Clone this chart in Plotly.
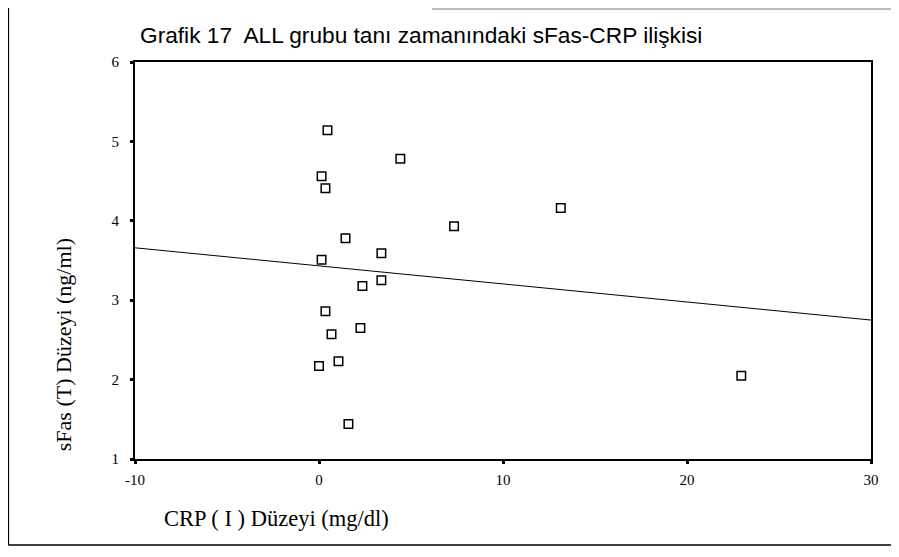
import plotly.graph_objects as go

# Data
crp = [0.46, 4.42, 0.14, 0.35, 7.34, 13.14, 1.44, 3.39, 0.14, 3.39, 2.36,
       0.35, 0.68, 2.25, 0.0, 1.06, 1.6, 22.95]
sfas = [5.14, 4.78, 4.56, 4.41, 3.93, 4.16, 3.78, 3.59, 3.51, 3.25, 3.18,
        2.86, 2.57, 2.65, 2.17, 2.23, 1.44, 2.05]
fit_x = [-10, 30]
fit_y = [3.66, 2.75]
x_ticks = [-10, 0, 10, 20, 30]
x_tick_labels = ["-10", "0", "10", "20", "30"]
y_ticks = [1, 2, 3, 4, 5, 6]

# page has an 8px body margin; work in reference-pixel coordinates minus 8
OFF = 8
W, H = 899 - 2 * OFF, 557 - 2 * OFF
L, R, T, B = 135 - OFF, 873 - OFF, 62 - OFF, 459 - OFF

def px(xp):
    return (xp - OFF - L) / (R - L)

def py(yp):
    return (B - (yp - OFF)) / (B - T)

fig = go.Figure()
fig.add_trace(go.Scatter(x=fit_x, y=fit_y, mode="lines",
                         line=dict(color="black", width=1), hoverinfo="skip"))
fig.add_trace(go.Scatter(x=crp, y=sfas, mode="markers",
                         marker=dict(symbol="square-open", size=8.5,
                                     color="black", line=dict(width=1.5))))

serif = "Liberation Serif, Times New Roman, serif"
fig.update_layout(
    width=W, height=H,
    margin=dict(l=L, r=W - R, t=T, b=H - B),
    paper_bgcolor="white", plot_bgcolor="white",
    showlegend=False,
    xaxis=dict(range=[-10, 30], tickvals=x_ticks, ticktext=x_tick_labels,
               showgrid=False, zeroline=False, showline=True, linecolor="black",
               linewidth=2, mirror=True, ticks="outside", ticklen=3, tickwidth=3,
               tickcolor="black", ticklabelstandoff=3,
               tickfont=dict(family=serif, size=15, color="black")),
    yaxis=dict(range=[1, 6], tickvals=y_ticks, showgrid=False, zeroline=False,
               showline=True, linecolor="black", linewidth=2, mirror=True,
               ticks="outside", ticklen=3, tickwidth=3, tickcolor="black",
               ticklabelstandoff=8,
               tickfont=dict(family=serif, size=15, color="black")),
)

fig.add_annotation(text="Grafik 17  ALL grubu tanı zamanındaki sFas-CRP ilişkisi",
                   xref="paper", yref="paper", x=px(138), y=py(35),
                   xanchor="left", yanchor="middle", showarrow=False,
                   font=dict(family="Liberation Sans, Arial, sans-serif",
                             size=22.7, color="black"))
fig.add_annotation(text="sFas (T) Düzeyi (ng/ml)", textangle=-90,
                   xref="paper", yref="paper", x=px(63), y=py(345),
                   xanchor="center", yanchor="middle", showarrow=False,
                   font=dict(family=serif, size=22, color="black"))
fig.add_annotation(text="CRP ( I ) Düzeyi (mg/dl)",
                   xref="paper", yref="paper", x=px(162), y=py(518),
                   xanchor="left", yanchor="middle", showarrow=False,
                   font=dict(family=serif, size=22.5, color="black"))

# outer frame lines
fig.add_shape(type="line", xref="paper", yref="paper",
              x0=px(8), x1=px(8), y0=py(8), y1=py(545),
              line=dict(color="black", width=1.5))
fig.add_shape(type="line", xref="paper", yref="paper",
              x0=px(8), x1=px(899), y0=py(545), y1=py(545),
              line=dict(color="black", width=1.5))
fig.add_shape(type="line", xref="paper", yref="paper",
              x0=px(433), x1=px(899), y0=py(9), y1=py(9),
              line=dict(color="#777777", width=1))

fig.write_html("out.html")
